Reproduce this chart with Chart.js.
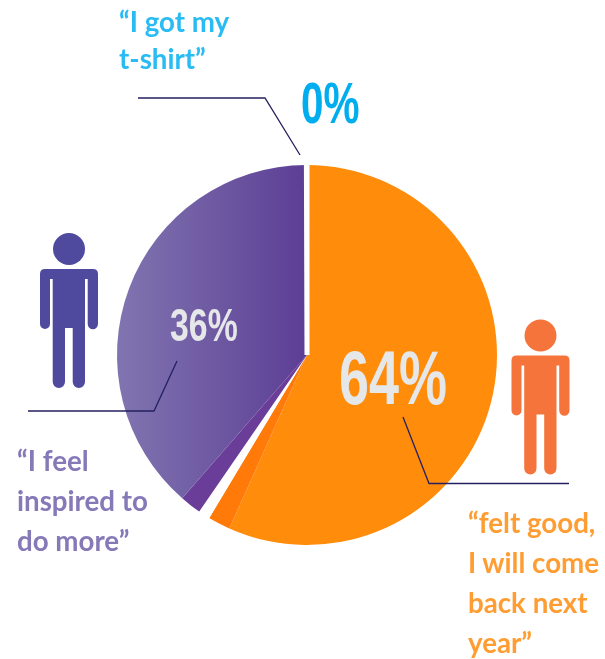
<!DOCTYPE html>
<html>
<head>
<meta charset="utf-8">
<script src="https://cdn.jsdelivr.net/npm/chart.js@4"></script>
<style>
  html, body { margin: 0; padding: 0; background: #fff; }
  #wrap { position: relative; width: 605px; height: 659px; overflow: hidden; }
  #pie { position: absolute; left: 0; top: 0; }
  svg { position: absolute; left: 0; top: 0; }
  .quote { position: absolute; font: bold 27.7px/40px Lato, "Open Sans", sans-serif; white-space: pre; }
  .pct { position: absolute; font-family: "Liberation Sans", sans-serif; font-weight: bold; transform-origin: 0 0; white-space: pre; line-height: 1; }
</style>
</head>
<body>
<div id="wrap">
  <canvas id="pie" width="605" height="659"></canvas>
  <svg width="605" height="659">
    <defs>
      <path id="person" d="M40 274 Q40 269 45 269 H93 Q98 269 98 274 V324 A5.15 5.15 0 0 1 87.7 324 V279 H85 V381.8 A6.15 6.15 0 0 1 72.7 381.8 V328 H65 V381.8 A6.15 6.15 0 0 1 52.7 381.8 V279 H50 V324 A5 5 0 0 1 40 324 Z"/>
    </defs>
    <g fill="#4f4a9e"><circle cx="69" cy="249" r="16"/><use href="#person"/></g>
    <g fill="#f4743b" transform="translate(471.5 86.5)"><circle cx="69" cy="249" r="16"/><use href="#person"/></g>
    <g fill="none" stroke="#24205f" stroke-width="1.3">
      <polyline points="138,98 265,98 300,155"/>
      <polyline points="177,361 154,411 28,411"/>
      <polyline points="403,417 429,483.5 569,483.5"/>
    </g>
  </svg>
  <div class="quote" style="left:119px;top:3px;line-height:37px;color:#29bcf4">“I got my
t-shirt”</div>
  <div class="quote" style="left:17px;top:441px;color:#8679b8">“I feel
inspired to
do more”</div>
  <div class="quote" style="left:468px;top:503px;color:#ff9d33">“felt good,
I will come
back next
year”</div>
  <div class="pct" id="pctShirt" style="left:301px;top:75px;font-size:57px;color:#00aeef;transform:scaleX(0.71)"></div>
  <div class="pct" id="pctInspired" style="left:170px;top:301px;font-size:47px;color:#e6e7e8;transform:scaleX(0.72)"></div>
  <div class="pct" id="pctGood" style="left:339px;top:340px;font-size:76px;color:#e6e7e8;transform:scaleX(0.71)"></div>
</div>
<script>
const sliceLabels = ['felt good', 'felt good edge', 'gap', 'inspired edge', 'inspired', 't-shirt'];
const sliceValues = [56.7, 1.9, 1.0, 1.8, 38.55, 0.05];
const calloutLabels = ['0%', '36%', '64%'];

document.getElementById('pctShirt').textContent = calloutLabels[0];
document.getElementById('pctInspired').textContent = calloutLabels[1];
document.getElementById('pctGood').textContent = calloutLabels[2];

const canvas = document.getElementById('pie');
const purpleFade = canvas.getContext('2d').createLinearGradient(120, 0, 304, 0);
purpleFade.addColorStop(0, '#8074b0');
purpleFade.addColorStop(1, '#5d3f95');

new Chart(canvas, {
  type: 'pie',
  data: {
    labels: sliceLabels,
    datasets: [{
      data: sliceValues,
      backgroundColor: ['#ff8c0b', '#ff7a08', '#ffffff', '#6a3d99', purpleFade, '#ffffff'],
      borderColor: '#ffffff',
      borderWidth: [0, 0, 0, 0, 0, 5]
    }]
  },
  options: {
    responsive: false,
    animation: false,
    radius: 190,
    layout: { padding: { left: 9, top: 51 } },
    plugins: {
      legend: { display: false },
      tooltip: { enabled: false }
    }
  }
});
</script>
</body>
</html>
